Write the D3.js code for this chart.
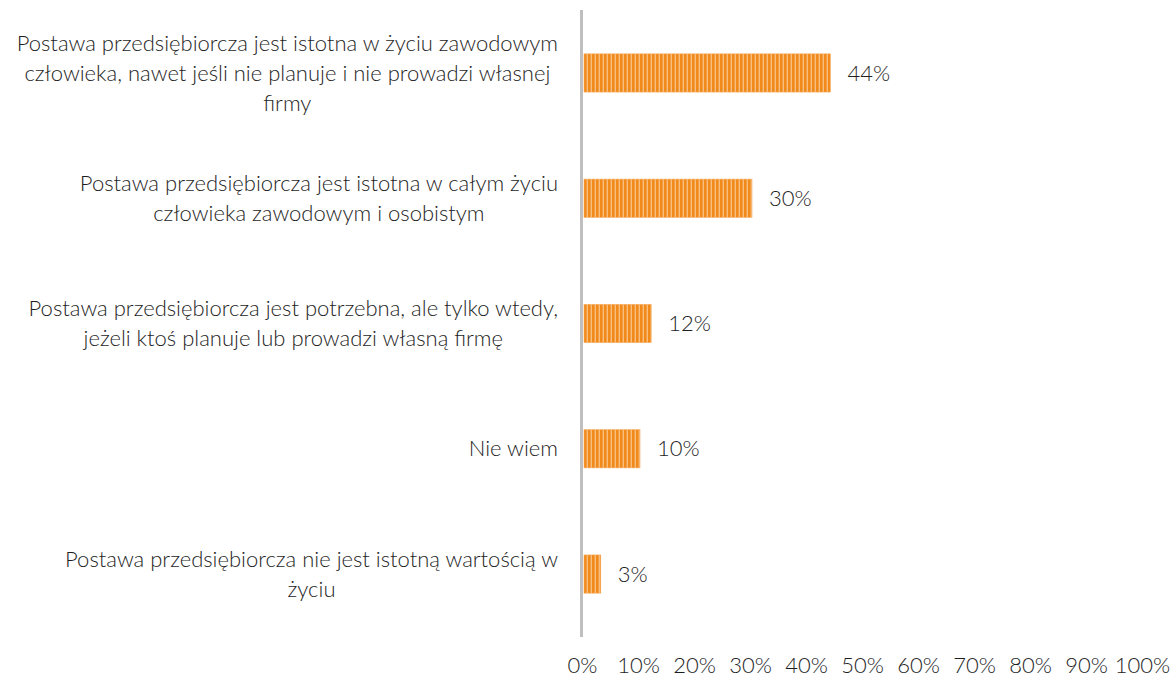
<!DOCTYPE html>
<html>
<head>
<meta charset="utf-8">
<script src="https://cdn.jsdelivr.net/npm/d3@7"></script>
<style>
  html, body { margin: 0; padding: 0; background: #fff; }
  svg { display: block; }
  text { font-family: Lato, "Open Sans", sans-serif; font-weight: 300; fill: #1e1e1e; }
</style>
</head>
<body>
<svg id="chart" width="1174" height="679"></svg>
<script>
const categories = [
  ["Postawa przedsiębiorcza jest istotna w życiu zawodowym", "człowieka, nawet jeśli nie planuje i nie prowadzi własnej", "firmy"],
  ["Postawa przedsiębiorcza jest istotna w całym życiu", "człowieka zawodowym i osobistym"],
  ["Postawa przedsiębiorcza jest potrzebna, ale tylko wtedy,", "jeżeli ktoś planuje lub prowadzi własną firmę"],
  ["Nie wiem"],
  ["Postawa przedsiębiorcza nie jest istotną wartością w", "życiu"]
];
const values = [0.44, 0.30, 0.12, 0.10, 0.03];
const valueLabels = ["44%", "30%", "12%", "10%", "3%"];
const tickValues = [0, 0.1, 0.2, 0.3, 0.4, 0.5, 0.6, 0.7, 0.8, 0.9, 1.0];

const svg = d3.select("#chart");
const W = 1174, H = 679;
const margin = { left: 584, right: 30, top: 10, bottom: 42 };

const x = d3.scaleLinear().domain([0, 1]).range([584, 1144]);
const y = d3.scaleBand().domain(d3.range(values.length)).range([margin.top, H - margin.bottom]).paddingInner(0.695).paddingOuter(0.35);

const FS = 22;

// pattern
const defs = svg.append("defs");
const pat = defs.append("pattern").attr("id", "stripes").attr("patternUnits", "userSpaceOnUse")
  .attr("width", 4).attr("height", 10);
pat.append("rect").attr("x", 0).attr("y", 0).attr("width", 4).attr("height", 10).attr("fill", "#F28A1B");
pat.append("rect").attr("x", 2.6).attr("y", 0).attr("width", 1.4).attr("height", 10).attr("fill", "#F8BE7E");

// bars
svg.append("g").selectAll("rect").data(values).join("rect")
  .attr("x", x(0))
  .attr("y", (d, i) => y(i))
  .attr("width", d => x(d) - x(0))
  .attr("height", y.bandwidth())
  .attr("fill", "url(#stripes)")
  .attr("stroke", "#F6A95A").attr("stroke-width", 0.6);

// value labels
svg.append("g").selectAll("text").data(values).join("text")
  .attr("x", d => x(d) + 17)
  .attr("y", (d, i) => y(i) + y.bandwidth() / 2)
  .attr("dy", "0.35em")
  .attr("font-size", FS)
  .text((d, i) => valueLabels[i]);

// axis line
svg.append("line").attr("x1", 581.5).attr("x2", 581.5).attr("y1", 10).attr("y2", 637)
  .attr("stroke", "#BFBFBF").attr("stroke-width", 3);

// x axis
const xAxis = d3.axisBottom(x).tickValues(tickValues).tickFormat(d3.format(".0%")).tickSize(0).tickPadding(0);
const gx = svg.append("g").attr("transform", "translate(0,657)").call(xAxis);
gx.select(".domain").remove();
gx.selectAll("text").attr("font-size", FS).attr("font-family", "Lato, 'Open Sans', sans-serif").attr("fill", "#1e1e1e").attr("dy", "0.72em");
gx.selectAll(".tick").attr("transform", d => `translate(${x(d) - 1.5},0)`);

// category labels (centered block, right edge at 558)
const lineH = 30;
const catG = svg.append("g");
categories.forEach((lines, i) => {
  const t = catG.append("text").attr("font-size", FS).attr("text-anchor", "middle");
  const cy = y(i) + y.bandwidth() / 2;
  const startY = cy - (lines.length - 1) * lineH / 2;
  lines.forEach((ln, j) => {
    t.append("tspan").attr("x", 0).attr("y", startY + j * lineH).attr("dy", "0.35em").text(ln);
  });
  let maxW = 0;
  t.selectAll("tspan").each(function() { maxW = Math.max(maxW, this.getComputedTextLength()); });
  t.selectAll("tspan").attr("x", 558 - maxW / 2);
});
</script>
</body>
</html>
